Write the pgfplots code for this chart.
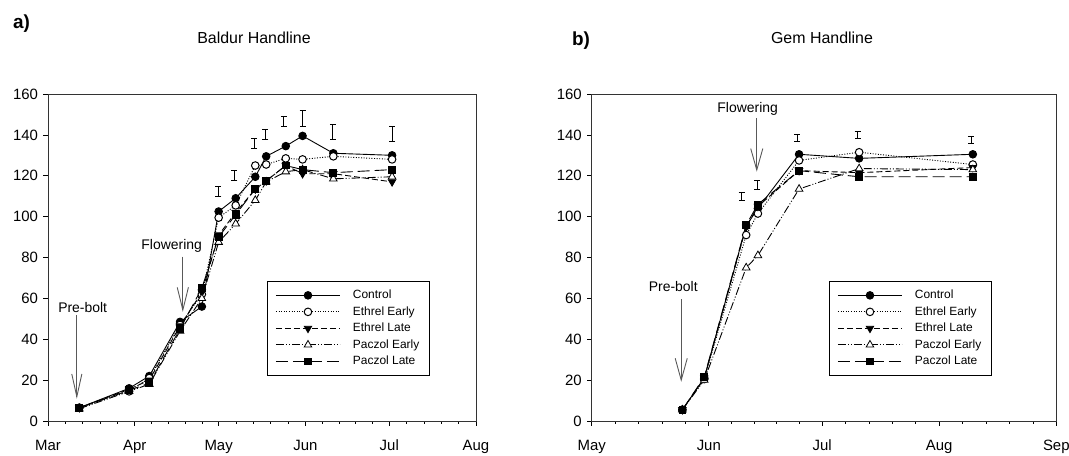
\documentclass[border=0pt]{standalone}
\usepackage{fontspec}
\setmainfont{Liberation Sans}
\usepackage{pgfplots}
\pgfplotsset{compat=1.18}

\tikzset{arr/.style={black!65, line width=0.9bp}}
\pgfplotsset{
  growth/.style={
    scale only axis, height=327bp,
    ymin=0, ymax=160, ytick={0,20,...,160},
    axis line style={line width=0.9bp, black!80},
    tick style={black, line width=0.7bp},
    major tick length=4.5bp, minor tick length=2.5bp,
    tick align=outside, xtick pos=bottom, ytick pos=left,
    /pgf/number format/assume math mode=true,
    tick label style={font=\fontsize{15}{17}\selectfont},
    yticklabel style={xshift=-2bp},
    xticklabel style={yshift=-11bp},
    legend image code/.code={\draw[mark repeat=2, mark phase=2, #1] plot coordinates {(0bp,0bp) (32bp,0bp) (64bp,0bp)};},
    legend style={anchor=north west, draw=black, line width=0.8bp, fill=white,
      font=\fontsize{12}{14}\selectfont, inner xsep=8bp, inner ysep=6bp,
      nodes={inner sep=2.5bp, text height=9bp, text depth=2.5bp},
      column sep=10bp, row sep=0pt, cells={anchor=west}},
  },
  ctrl/.style={black, line width=0.9bp, mark=*, mark size=3.8bp, mark options={solid}},
  eearly/.style={black, line width=0.9bp, dash pattern=on 1bp off 1.6bp, mark=*, mark size=3.8bp, mark options={solid, fill=white, line width=1bp}},
  elate/.style={black, line width=0.9bp, dash pattern=on 6bp off 3bp, mark=triangle*, mark size=4.2bp, mark options={solid, rotate=180}},
  pearly/.style={black, line width=0.9bp, dash pattern=on 8bp off 2bp on 1bp off 2bp on 1bp off 2bp, mark=triangle*, mark size=4.4bp, mark options={solid, fill=white, line width=0.8bp}},
  plate/.style={black, line width=0.9bp, dash pattern=on 12bp off 5bp, mark=square*, mark size=3.4bp, mark options={solid}},
  lsd/.style={forget plot, draw=none, mark=none,
    error bars/.cd, y dir=both, y explicit,
    error bar style={draw=black, line width=0.7bp, solid},
    error mark=-,
    error mark options={draw=black, rotate=90, line width=0.7bp, mark size=3bp, solid}},
}

\begin{document}
\begin{tikzpicture}
\path[use as bounding box] (0,0) rectangle (1069bp,456bp);

% ---------- a) Baldur Handline (days from 1 Mar) ----------
\begin{axis}[growth, at={(48bp,35bp)}, anchor=south west, width=428bp,
  xmin=0, xmax=153, xtick={0,31,61,92,122,153},
  xticklabels={Mar,Apr,May,Jun,Jul,Aug},
  minor xtick={6.2,12.4,18.6,24.8,37,43,49,55,67.2,73.4,79.6,85.8,98,104,110,116,128.2,134.4,140.6,146.8},
  legend style={at={(rel axis cs:0.512,0.429)}}]
\addplot[ctrl] coordinates {(11.2,6.5) (29,16) (36.2,22) (47.2,48.5) (55,56) (61,102.5) (67.1,109) (74.1,119.5) (78,129.5) (85,134.5) (91,139.5) (102,131) (123,130)};
\addplot[eearly] coordinates {(11.2,6.5) (29,14.5) (36.2,21) (47.2,47) (55,62) (61,99.5) (67.1,105.5) (74.1,125) (78,125.5) (85,128.5) (91,128) (102,129.5) (123,128)};
\addplot[elate] coordinates {(11.2,6.5) (29,15.5) (36.2,20) (47.2,46.5) (55,63) (61,91) (67.1,102) (74.1,113.5) (78,117.5) (85,125) (91,121) (102,121) (123,117)};
\addplot[pearly] coordinates {(11.2,6) (29,14.5) (36.2,18) (47.2,44) (55,60) (61,87.5) (67.1,96.5) (74.1,108) (78,117) (85,122) (91,123) (102,118.5) (123,119.5)};
\addplot[plate] coordinates {(11.2,6.5) (29,15) (36.2,18.5) (47.2,45) (55,65) (61,90) (67.1,101) (74.1,113.5) (78,117.5) (85,125) (91,123) (102,121.5) (123,123)};
\addplot[lsd] coordinates {(60.9,112.2) +- (0,2.5) (66.6,120.3) +- (0,2.5) (73.7,135.9) +- (0,2.5) (77.7,140.2) +- (0,2.5) (84.3,146.5) +- (0,2.5) (91,147.9) +- (0,3.9) (101.8,141.5) +- (0,3.7) (123,140.3) +- (0,3.7)};
\legend{Control, Ethrel Early, Ethrel Late, Paczol Early, Paczol Late}
% Pre-bolt arrow
\draw[arr] (axis cs:10.3,51.9) -- (axis cs:10.3,11.9);
\draw[arr] (axis cs:8.5,23) -- (axis cs:10.3,11.9) -- (axis cs:12.1,23);
\node[font=\fontsize{14}{16}\selectfont] at (axis cs:12.4,55.4) {Pre-bolt};
% Flowering arrow
\draw[arr] (axis cs:48.2,80.4) -- (axis cs:48.2,54.3);
\draw[arr] (axis cs:46.2,65.4) -- (axis cs:48.2,54.3) -- (axis cs:50.2,65.4);
\node[font=\fontsize{14}{16}\selectfont] at (axis cs:44.2,85.6) {Flowering};
\end{axis}

% ---------- b) Gem Handline (days from 1 May) ----------
\begin{axis}[growth, at={(591.7bp,35bp)}, anchor=south west, width=464.6bp,
  xmin=0, xmax=123, xtick={0,31,61,92,123},
  xticklabels={May,Jun,Jul,Aug,Sep},
  minor xtick={6.2,12.4,18.6,24.8,37,43,49,55,67.2,73.4,79.6,85.8,98.2,104.4,110.6,116.8},
  legend style={at={(rel axis cs:0.511,0.429)}}]
\addplot[ctrl] coordinates {(24,5.5) (29.8,21) (40.9,95.5) (44,104) (54.9,130.5) (70.8,128.5) (100.9,130.5)};
\addplot[eearly] coordinates {(24,5.5) (29.8,20.5) (40.9,91) (44,101.5) (54.9,127.5) (70.8,131.5) (100.9,125.5)};
\addplot[elate] coordinates {(24,5.5) (29.8,21) (40.9,95) (44,105) (54.9,122.5) (70.8,121.5) (100.9,124)};
\addplot[pearly] coordinates {(24,5.5) (29.8,20) (40.9,75) (44,81) (54.9,113.5) (70.8,123.5) (100.9,123)};
\addplot[plate] coordinates {(24,5.5) (29.8,21.5) (40.9,96) (44,106) (54.9,122.5) (70.8,119.5) (100.9,119.5)};
\addplot[lsd] coordinates {(39.7,109.9) +- (0,1.85) (43.8,115.6) +- (0,2.25) (54.4,138.5) +- (0,1.85) (70.4,140) +- (0,1.5) (100.4,137.6) +- (0,1.75)};
\legend{Control, Ethrel Early, Ethrel Late, Paczol Early, Paczol Late}
% Pre-bolt arrow
\draw[arr] (axis cs:23.7,59.5) -- (axis cs:23.7,20);
\draw[arr] (axis cs:22.1,30.7) -- (axis cs:23.7,20) -- (axis cs:25.3,30.7);
\node[font=\fontsize{14}{16}\selectfont] at (axis cs:21.6,66) {Pre-bolt};
% Flowering arrow
\draw[arr] (axis cs:43.7,148.1) -- (axis cs:43.7,122.8);
\draw[arr] (axis cs:42.1,133.3) -- (axis cs:43.7,122.8) -- (axis cs:45.3,133.3);
\node[font=\fontsize{14}{16}\selectfont] at (axis cs:41.3,152.5) {Flowering};
\end{axis}

% panel letters and titles
\node[font=\fontsize{19}{21}\selectfont\bfseries] at (21.5bp,432.5bp) {a)};
\node[font=\fontsize{19}{21}\selectfont\bfseries] at (581bp,415bp) {b)};
\node[font=\fontsize{16}{18}\selectfont] at (254bp,418bp) {Baldur Handline};
\node[font=\fontsize{16}{18}\selectfont] at (822bp,418bp) {Gem Handline};
\end{tikzpicture}
\end{document}
